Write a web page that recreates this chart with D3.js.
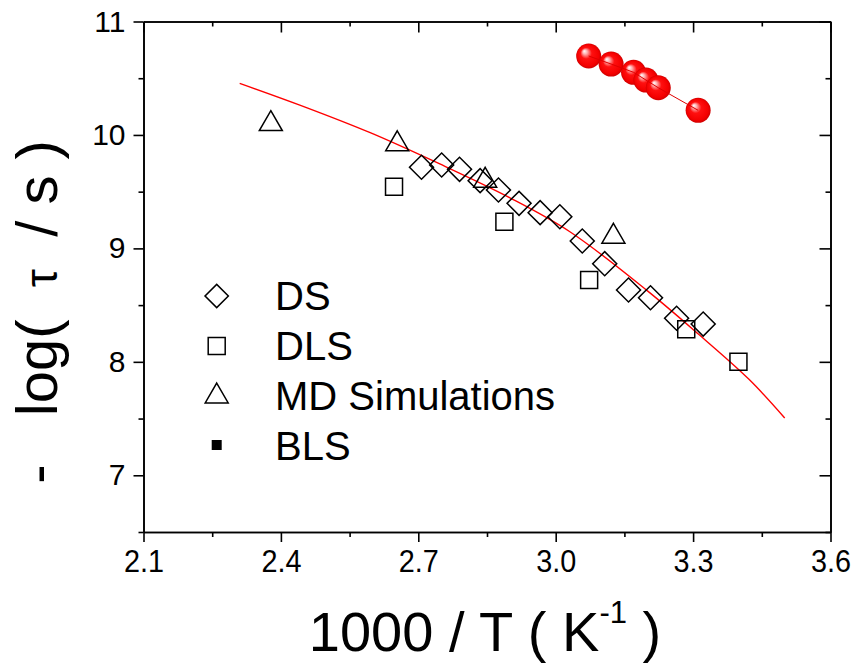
<!DOCTYPE html>
<html>
<head>
<meta charset="utf-8">
<script src="https://cdn.jsdelivr.net/npm/d3@7/dist/d3.min.js"></script>
<style>
  html, body { margin: 0; padding: 0; background: #fff; }
  svg { display: block; font-family: "Liberation Sans", Arial, sans-serif; }
</style>
</head>
<body>
<svg id="chart" width="856" height="668"></svg>
<script>
// ---------- data ----------
const dsX  = [2.707, 2.751, 2.790, 2.835, 2.875, 2.920, 2.966, 3.009, 3.058, 3.107, 3.159, 3.207, 3.264, 3.322];
const dsY  = [9.715, 9.735, 9.697, 9.597, 9.515, 9.397, 9.315, 9.279, 9.065, 8.865, 8.633, 8.565, 8.384, 8.333];

const dlsX = [2.647, 2.888, 3.073, 3.285, 3.399];
const dlsY = [9.544, 9.235, 8.721, 8.287, 8.001];

const mdX  = [2.378, 2.654, 2.846, 3.126];
const mdY  = [10.126, 9.949, 9.627, 9.133];

const blsX = [3.072, 3.121, 3.170, 3.197, 3.224, 3.311];
const blsY = [10.696, 10.625, 10.552, 10.484, 10.416, 10.217];

// fitted curve
const fitX = [2.310, 2.450, 2.595, 2.747, 2.900, 3.031, 3.199, 3.310, 3.422, 3.500];
const fitY = [10.455, 10.250, 10.020, 9.744, 9.446, 9.147, 8.630, 8.250, 7.846, 7.505];

const xMajor = [2.1, 2.4, 2.7, 3.0, 3.3, 3.6];
const xMinor = [2.25, 2.55, 2.85, 3.15, 3.45];
const yMajor = [7, 8, 9, 10, 11];
const yMinor = [6.5, 7.5, 8.5, 9.5, 10.5];

const legendLabels = ["DS", "DLS", "MD Simulations", "BLS"];

// ---------- layout ----------
const svg = d3.select("#chart");
const X0 = 143.5, X1 = 830.5, Y0 = 532, Y1 = 21.5;
const x = d3.scaleLinear().domain([2.1, 3.6]).range([X0, X1]);
const y = d3.scaleLinear().domain([6.5, 11]).range([Y0, Y1]);

const defs = svg.append("defs");
const grad = defs.append("radialGradient").attr("id", "ball")
  .attr("cx", "50%").attr("cy", "50%").attr("r", "50%")
  .attr("fx", "32%").attr("fy", "30%");
grad.append("stop").attr("offset", "0%").attr("stop-color", "#ffffff");
grad.append("stop").attr("offset", "18%").attr("stop-color", "#ffb0b0");
grad.append("stop").attr("offset", "45%").attr("stop-color", "#ff1010");
grad.append("stop").attr("offset", "85%").attr("stop-color", "#f40000");
grad.append("stop").attr("offset", "100%").attr("stop-color", "#d00000");

// ---------- axes ----------
function styleAxis(g) {
  g.select(".domain").attr("stroke", "#000").attr("stroke-width", 1.6);
  g.selectAll(".tick line").attr("stroke", "#000").attr("stroke-width", 1.6);
  g.selectAll(".tick text").attr("fill", "#000");
}
const fmt1 = d3.format(".1f");

// bottom
const gB = svg.append("g").attr("transform", `translate(0,${Y0})`)
  .call(d3.axisBottom(x).tickValues(xMajor).tickFormat(fmt1).tickSize(10).tickPadding(7).tickSizeOuter(0));
gB.selectAll(".tick text").attr("font-size", 32)
  .attr("font-family", "Liberation Sans, Arial, sans-serif")
  .attr("transform", "scale(0.9,1)");
styleAxis(gB);
const gBm = svg.append("g").attr("transform", `translate(0,${Y0})`)
  .call(d3.axisBottom(x).tickValues(xMinor).tickFormat("").tickSize(5).tickSizeOuter(0));
styleAxis(gBm);

// left
const gL = svg.append("g").attr("transform", `translate(${X0},0)`)
  .call(d3.axisLeft(y).tickValues(yMajor).tickFormat(d3.format("d")).tickSize(10).tickPadding(8).tickSizeOuter(0));
gL.selectAll(".tick text").attr("font-size", 30).attr("font-family", "Liberation Sans, Arial, sans-serif");
styleAxis(gL);
const gLm = svg.append("g").attr("transform", `translate(${X0},0)`)
  .call(d3.axisLeft(y).tickValues(yMinor).tickFormat("").tickSize(5).tickSizeOuter(0));
styleAxis(gLm);

// top (inward ticks)
const gT = svg.append("g").attr("transform", `translate(0,${Y1})`)
  .call(d3.axisTop(x).tickValues(xMajor).tickFormat("").tickSize(-11).tickSizeOuter(0));
styleAxis(gT);
const gTm = svg.append("g").attr("transform", `translate(0,${Y1})`)
  .call(d3.axisTop(x).tickValues(xMinor).tickFormat("").tickSize(-5).tickSizeOuter(0));
styleAxis(gTm);

// right (inward ticks)
const gR = svg.append("g").attr("transform", `translate(${X1},0)`)
  .call(d3.axisRight(y).tickValues(yMajor).tickFormat("").tickSize(-11).tickSizeOuter(0));
styleAxis(gR);
const gRm = svg.append("g").attr("transform", `translate(${X1},0)`)
  .call(d3.axisRight(y).tickValues(yMinor).tickFormat("").tickSize(-5).tickSizeOuter(0));
styleAxis(gRm);

// ---------- fit curve ----------
const fitData = fitX.map((v, i) => [v, fitY[i]]);
svg.append("path").datum(fitData)
  .attr("fill", "none").attr("stroke", "#ff0000").attr("stroke-width", 1.4)
  .attr("d", d3.line().x(d => x(d[0])).y(d => y(d[1])).curve(d3.curveCatmullRom.alpha(0.5)));

// ---------- markers ----------
const sq = d3.symbol().type(d3.symbolSquare);
const tri = d3.symbol().type(d3.symbolTriangle);

function pts(xs, ys) { return xs.map((v, i) => ({ x: v, y: ys[i] })); }

// DLS squares
svg.append("g").selectAll("path").data(pts(dlsX, dlsY)).join("path")
  .attr("d", sq.size(17 * 17)())
  .attr("transform", d => `translate(${x(d.x)},${y(d.y)})`)
  .attr("fill", "none").attr("stroke", "#000").attr("stroke-width", 1.5);

// DS diamonds
svg.append("g").selectAll("path").data(pts(dsX, dsY)).join("path")
  .attr("d", sq.size(17 * 17)())
  .attr("transform", d => `translate(${x(d.x)},${y(d.y)}) rotate(45)`)
  .attr("fill", "none").attr("stroke", "#000").attr("stroke-width", 1.5);

// MD triangles (centroid shifted so bbox centre is on the point)
const triArea = Math.sqrt(3) / 4 * 23 * 23;
svg.append("g").selectAll("path").data(pts(mdX, mdY)).join("path")
  .attr("d", tri.size(triArea)())
  .attr("transform", d => `translate(${x(d.x)},${y(d.y) + 3.3})`)
  .attr("fill", "none").attr("stroke", "#000").attr("stroke-width", 1.5);

// BLS red balls
const blsData = pts(blsX, blsY);
svg.append("g").selectAll("circle").data(blsData).join("circle")
  .attr("cx", d => x(d.x)).attr("cy", d => y(d.y)).attr("r", 12.5)
  .attr("fill", "url(#ball)");
svg.append("path").datum(blsData)
  .attr("fill", "none").attr("stroke", "#e00000").attr("stroke-width", 1)
  .attr("d", d3.line().x(d => x(d.x)).y(d => y(d.y)));

// ---------- legend ----------
const lg = svg.append("g");
const lgSymX = 216.7, lgTextX = 275, lgBase = 310, lgStep = 50;
legendLabels.forEach((lab, i) => {
  const cy = lgBase + i * lgStep - 14;
  if (i === 0) {
    lg.append("path").attr("d", sq.size(16.5 * 16.5)())
      .attr("transform", `translate(${lgSymX},${cy}) rotate(45)`)
      .attr("fill", "none").attr("stroke", "#000").attr("stroke-width", 1.5);
  } else if (i === 1) {
    lg.append("path").attr("d", sq.size(17 * 17)())
      .attr("transform", `translate(${lgSymX},${cy})`)
      .attr("fill", "none").attr("stroke", "#000").attr("stroke-width", 1.5);
  } else if (i === 2) {
    lg.append("path").attr("d", tri.size(triArea)())
      .attr("transform", `translate(${lgSymX},${cy - 3 + 3.3})`)
      .attr("fill", "none").attr("stroke", "#000").attr("stroke-width", 1.5);
  } else {
    lg.append("path").attr("d", sq.size(10 * 10)())
      .attr("transform", `translate(${lgSymX},${cy - 1})`)
      .attr("fill", "#000");
  }
  lg.append("text").attr("x", lgTextX).attr("y", lgBase + i * lgStep)
    .attr("font-size", 40).attr("fill", "#000").text(lab);
});

// ---------- axis titles ----------
const xt = svg.append("text").attr("x", (X0 + X1) / 2 - 2).attr("y", 651)
  .attr("text-anchor", "middle").attr("font-size", 56).attr("fill", "#000")
  .style("white-space", "pre");
xt.append("tspan").text("1000 / T ( K");
xt.append("tspan").attr("font-size", 31).attr("dy", -28).text("-1");
xt.append("tspan").attr("dy", 28).text(" )");

const yt = svg.append("text")
  .attr("transform", `translate(57,312) rotate(-90)`)
  .attr("text-anchor", "middle").attr("font-size", 58).attr("fill", "#000")
  .style("white-space", "pre");
yt.append("tspan").text("-   log(  ");
yt.append("tspan").attr("font-size", 46).text("τ");
yt.append("tspan").text("  / s )");
</script>
</body>
</html>
